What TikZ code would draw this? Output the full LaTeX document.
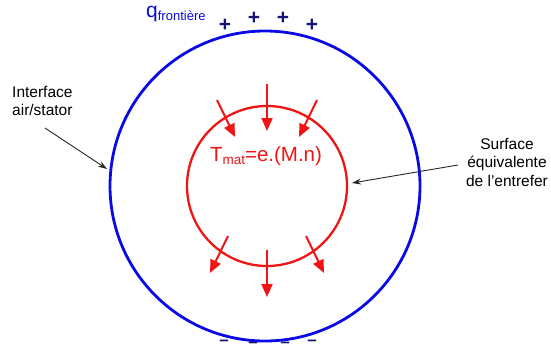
\documentclass[tikz,border=0pt]{standalone}
\usepackage{fontspec}
\setmainfont{Liberation Sans}
\usetikzlibrary{arrows.meta}
\definecolor{navy}{RGB}{20,20,120}
\definecolor{myblue}{RGB}{10,10,230}
\definecolor{myred}{RGB}{240,20,20}
\tikzset{
  redarrow/.style={draw=myred, line width=2pt, -{Triangle[length=13pt,width=11pt]}},
  blackarrow/.style={draw=black!85, line width=0.9pt, -{Stealth[length=9pt,width=6pt]}},
  label/.style={font=\fontsize{15.5}{18.5}\selectfont, align=center, inner sep=0pt},
  sign/.style={text=navy, font=\fontsize{21}{21}\selectfont\bfseries, inner sep=0pt},
  msign/.style={text=navy, font=\fontsize{17}{17}\selectfont\bfseries, inner sep=0pt, anchor=base},
}
\begin{document}
\begin{tikzpicture}[x=1pt,y=-1pt]
\useasboundingbox (0,0) rectangle (551,351);
% circles
\draw[myblue, line width=2.8pt] (265,186) circle[radius=155];
\draw[myred, line width=2.3pt] (267,186) circle[radius=80];
% arrow endpoints
\coordinate (a1s) at (217,100); \coordinate (a1e) at (235,137);
\coordinate (a2s) at (267,84);  \coordinate (a2e) at (267,131);
\coordinate (a3s) at (317,100); \coordinate (a3e) at (299,137);
\coordinate (b1s) at (228,236); \coordinate (b1e) at (210,273);
\coordinate (b2s) at (267,250); \coordinate (b2e) at (267,297);
\coordinate (b3s) at (306,236); \coordinate (b3e) at (324,273);
\draw[redarrow] (a1s) -- (a1e);
\draw[redarrow] (a2s) -- (a2e);
\draw[redarrow] (a3s) -- (a3e);
\draw[redarrow] (b1s) -- (b1e);
\draw[redarrow] (b2s) -- (b2e);
\draw[redarrow] (b3s) -- (b3e);
% formula
\node[text=myred, font=\fontsize{20.5}{20.5}\selectfont, inner sep=0pt] (tmat) at (266,156)
  {T\raisebox{-3.5pt}{\fontsize{13.5}{13.5}\selectfont mat}=e.(M.n)};
% q frontiere
\node[text=myblue, font=\fontsize{21}{21}\selectfont, inner sep=0pt, anchor=base west] (q) at (146,17)
  {q\raisebox{-3pt}{\fontsize{13}{13}\selectfont frontière}};
% signs
\node[sign] (p1) at (225,25) {+};
\node[sign] (p2) at (254,18) {+};
\node[sign] (p3) at (283,18) {+};
\node[sign] (p4) at (312,25) {+};
\node[msign] (m1) at (224,345.5) {–};
\node[msign] (m2) at (253,347) {–};
\node[msign] (m3) at (285,347) {–};
\node[msign] (m4) at (312,345.5) {–};
% labels
\node[label, align=left, anchor=north west] (iface) at (12,86) {Interface\\air/stator};
\node[label] (surf) at (507,162) {Surface\\équivalente\\de l’entrefer};
\coordinate (ifs) at (45,128); \coordinate (ife) at (107,169);
\coordinate (sfs) at (458,165); \coordinate (sfe) at (352,183);
\draw[blackarrow] (ifs) -- (ife);
\draw[blackarrow] (sfs) -- (sfe);
\end{tikzpicture}
\end{document}
